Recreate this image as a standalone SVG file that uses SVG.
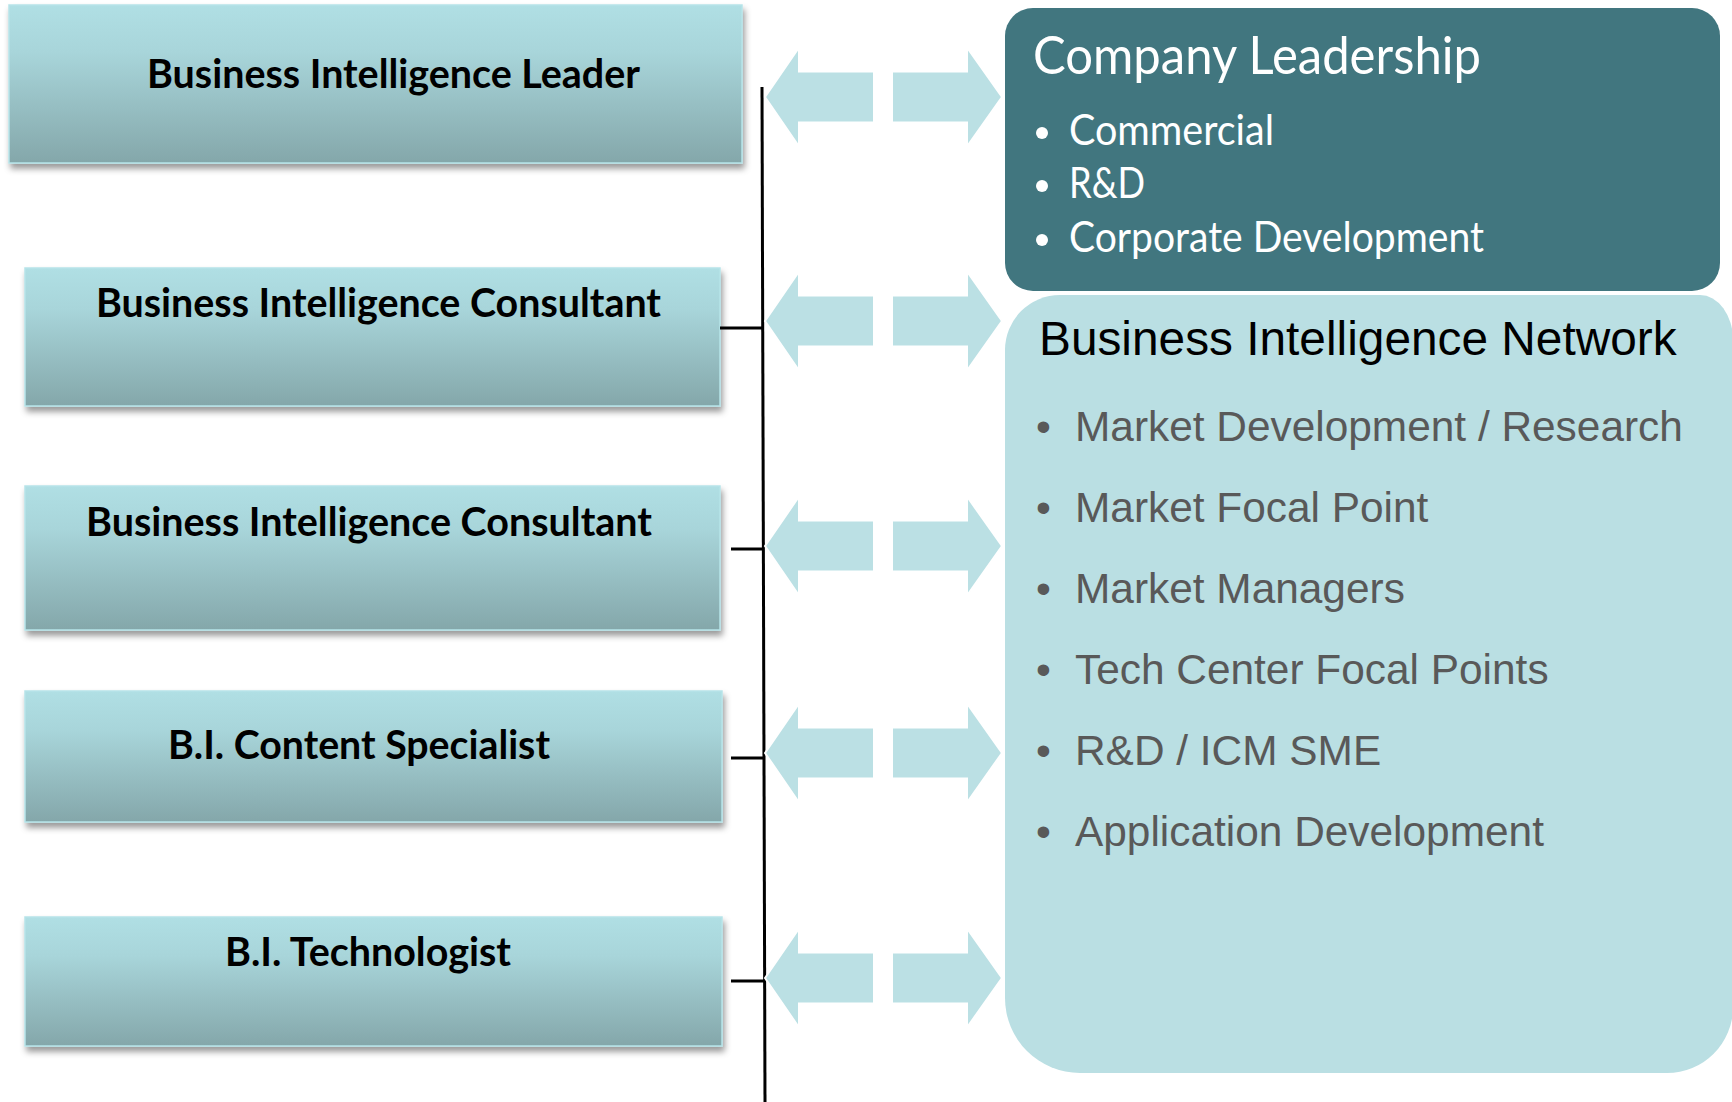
<svg xmlns="http://www.w3.org/2000/svg" width="1732" height="1102" viewBox="0 0 1732 1102">
  <style>
    .role { fill: url(#roleFill); stroke: #B6E4E9; stroke-width: 1.5; filter: url(#roleShadow); }
    .roleText { font-family: "Lato", "Liberation Sans", sans-serif; font-weight: 700; font-size: 41px; fill: #000; }
    .link { stroke: #000; stroke-width: 3; fill: none; }
    .arrow { fill: #BBE0E4; stroke: #FFFFFF; stroke-width: 2; stroke-linejoin: miter; }
    .leadTitle { font-family: "Lato", "Liberation Sans", sans-serif; font-size: 52px; fill: #FFFFFF; }
    .leadItem { font-family: "Lato", "Liberation Sans", sans-serif; font-size: 42px; fill: #FFFFFF; }
    .netTitle { font-family: "Liberation Sans", Arial, sans-serif; font-size: 47.8px; fill: #000; }
    .netItem { font-family: "Liberation Sans", Arial, sans-serif; font-size: 42.4px; fill: #595959; }
  </style>
  <defs>
    <linearGradient id="roleFill" x1="0" y1="0" x2="0" y2="1">
      <stop offset="0" stop-color="#B0DFE4"/>
      <stop offset="0.3" stop-color="#A8D5DA"/>
      <stop offset="1" stop-color="#84A7AA"/>
    </linearGradient>
    <filter id="roleShadow" x="-5%" y="-10%" width="112%" height="130%">
      <feDropShadow dx="2" dy="5" stdDeviation="3" flood-color="#000" flood-opacity="0.4"/>
    </filter>
    <polygon id="arrowLeft" class="arrow" points="765,0 799,-49.5 799,-25.5 874,-25.5 874,25.5 799,25.5 799,49.5"/>
    <polygon id="arrowRight" class="arrow" points="892,-25.5 967,-25.5 967,-49.5 1002,0 967,49.5 967,25.5 892,25.5"/>
  </defs>

  <rect width="1732" height="1102" fill="#FFFFFF"/>

  <!-- right-hand panels -->
  <g id="network">
    <path d="M1060 295 H1700 A33 45 0 0 1 1733 340 V1007 A66 66 0 0 1 1667 1073 H1080 A75 75 0 0 1 1005 998 V350 A55 55 0 0 1 1060 295 Z" fill="#BADFE3"/>
    <text class="netTitle" x="1039" y="355">Business Intelligence Network</text>
    <g class="netItem">
      <text x="1036" y="441">•</text><text x="1075" y="441">Market Development / Research</text>
      <text x="1036" y="522">•</text><text x="1075" y="522">Market Focal Point</text>
      <text x="1036" y="603">•</text><text x="1075" y="603">Market Managers</text>
      <text x="1036" y="684">•</text><text x="1075" y="684">Tech Center Focal Points</text>
      <text x="1036" y="765">•</text><text x="1075" y="765">R&amp;D / ICM SME</text>
      <text x="1036" y="846">•</text><text x="1075" y="846">Application Development</text>
    </g>
  </g>

  <g id="leadership">
    <rect x="1005" y="8" width="715" height="283" rx="28" ry="28" fill="#41767F"/>
    <text class="leadTitle" x="1033" y="74" textLength="448" lengthAdjust="spacingAndGlyphs">Company Leadership</text>
    <g class="leadItem">
      <circle cx="1042" cy="133" r="6" fill="#FFFFFF"/>
      <text x="1069" y="145" textLength="205" lengthAdjust="spacingAndGlyphs">Commercial</text>
      <circle cx="1042" cy="186" r="6" fill="#FFFFFF"/>
      <text x="1069" y="198" textLength="76" lengthAdjust="spacingAndGlyphs">R&amp;D</text>
      <circle cx="1042" cy="240" r="6" fill="#FFFFFF"/>
      <text x="1069" y="252" textLength="415" lengthAdjust="spacingAndGlyphs">Corporate Development</text>
    </g>
  </g>

  <!-- role boxes -->
  <g id="bi-leader">
    <rect class="role" x="9" y="5" width="733" height="158"/>
    <text class="roleText" x="147" y="88" textLength="493" lengthAdjust="spacingAndGlyphs">Business Intelligence Leader</text>
  </g>
  <g id="bi-consultant-1">
    <rect class="role" x="25" y="268" width="695" height="138"/>
    <text class="roleText" x="96" y="317" textLength="565" lengthAdjust="spacingAndGlyphs">Business Intelligence Consultant</text>
  </g>
  <g id="bi-consultant-2">
    <rect class="role" x="25" y="486" width="695" height="144"/>
    <text class="roleText" x="86" y="536" textLength="566" lengthAdjust="spacingAndGlyphs">Business Intelligence Consultant</text>
  </g>
  <g id="bi-content-specialist">
    <rect class="role" x="25" y="691" width="697" height="131"/>
    <text class="roleText" x="168" y="759" textLength="382" lengthAdjust="spacingAndGlyphs">B.I. Content Specialist</text>
  </g>
  <g id="bi-technologist">
    <rect class="role" x="25" y="917" width="697" height="129"/>
    <text class="roleText" x="225" y="966" textLength="286" lengthAdjust="spacingAndGlyphs">B.I. Technologist</text>
  </g>

  <!-- connectors: bracket line and two-way arrows -->
  <g id="connectors">
    <line class="link" x1="762" y1="87" x2="765" y2="1102"/>
    <line class="link" x1="720" y1="328" x2="763" y2="328"/>
    <line class="link" x1="731" y1="549" x2="763" y2="549"/>
    <line class="link" x1="731" y1="758" x2="764" y2="758"/>
    <line class="link" x1="731" y1="981" x2="765" y2="981"/>
    <use href="#arrowLeft" y="97"/><use href="#arrowRight" y="97"/>
    <use href="#arrowLeft" y="321"/><use href="#arrowRight" y="321"/>
    <use href="#arrowLeft" y="546"/><use href="#arrowRight" y="546"/>
    <use href="#arrowLeft" y="753"/><use href="#arrowRight" y="753"/>
    <use href="#arrowLeft" y="978"/><use href="#arrowRight" y="978"/>
  </g>
</svg>
